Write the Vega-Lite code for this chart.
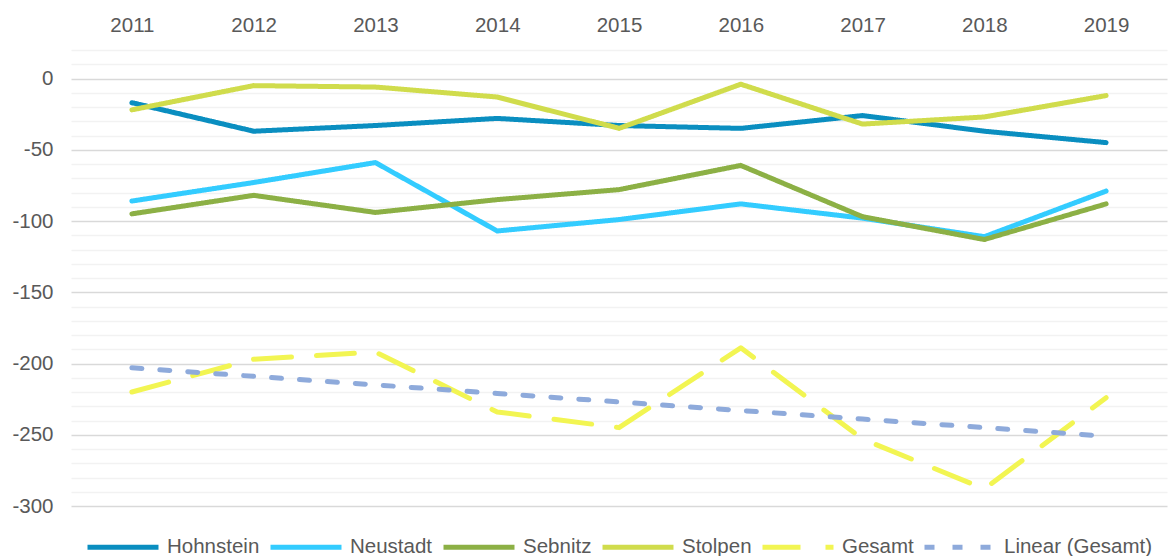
{
  "$schema": "https://vega.github.io/schema/vega-lite/v6.json",
  "width": 1096,
  "height": 456,
  "autosize": "none",
  "padding": {"left": 71, "top": 50, "right": 2, "bottom": 50},
  "background": "white",
  "config": {
    "view": {"stroke": null},
    "font": "Liberation Sans"
  },
  "data": {
    "values": [
      {"year": "2011", "series": "Hohnstein", "value": -17},
      {"year": "2012", "series": "Hohnstein", "value": -37},
      {"year": "2013", "series": "Hohnstein", "value": -33},
      {"year": "2014", "series": "Hohnstein", "value": -28},
      {"year": "2015", "series": "Hohnstein", "value": -33},
      {"year": "2016", "series": "Hohnstein", "value": -35},
      {"year": "2017", "series": "Hohnstein", "value": -26},
      {"year": "2018", "series": "Hohnstein", "value": -37},
      {"year": "2019", "series": "Hohnstein", "value": -45},
      {"year": "2011", "series": "Neustadt", "value": -86},
      {"year": "2012", "series": "Neustadt", "value": -73},
      {"year": "2013", "series": "Neustadt", "value": -59},
      {"year": "2014", "series": "Neustadt", "value": -107},
      {"year": "2015", "series": "Neustadt", "value": -99},
      {"year": "2016", "series": "Neustadt", "value": -88},
      {"year": "2017", "series": "Neustadt", "value": -98},
      {"year": "2018", "series": "Neustadt", "value": -111},
      {"year": "2019", "series": "Neustadt", "value": -79},
      {"year": "2011", "series": "Sebnitz", "value": -95},
      {"year": "2012", "series": "Sebnitz", "value": -82},
      {"year": "2013", "series": "Sebnitz", "value": -94},
      {"year": "2014", "series": "Sebnitz", "value": -85},
      {"year": "2015", "series": "Sebnitz", "value": -78},
      {"year": "2016", "series": "Sebnitz", "value": -61},
      {"year": "2017", "series": "Sebnitz", "value": -97},
      {"year": "2018", "series": "Sebnitz", "value": -113},
      {"year": "2019", "series": "Sebnitz", "value": -88},
      {"year": "2011", "series": "Stolpen", "value": -22},
      {"year": "2012", "series": "Stolpen", "value": -5},
      {"year": "2013", "series": "Stolpen", "value": -6},
      {"year": "2014", "series": "Stolpen", "value": -13},
      {"year": "2015", "series": "Stolpen", "value": -35},
      {"year": "2016", "series": "Stolpen", "value": -4},
      {"year": "2017", "series": "Stolpen", "value": -32},
      {"year": "2018", "series": "Stolpen", "value": -27},
      {"year": "2019", "series": "Stolpen", "value": -12},
      {"year": "2011", "series": "Gesamt", "value": -220},
      {"year": "2012", "series": "Gesamt", "value": -197},
      {"year": "2013", "series": "Gesamt", "value": -192},
      {"year": "2014", "series": "Gesamt", "value": -234},
      {"year": "2015", "series": "Gesamt", "value": -245},
      {"year": "2016", "series": "Gesamt", "value": -189},
      {"year": "2017", "series": "Gesamt", "value": -253},
      {"year": "2018", "series": "Gesamt", "value": -288},
      {"year": "2019", "series": "Gesamt", "value": -224},
      {"year": "2011", "series": "Linear (Gesamt)", "value": -203},
      {"year": "2012", "series": "Linear (Gesamt)", "value": -209},
      {"year": "2013", "series": "Linear (Gesamt)", "value": -215},
      {"year": "2014", "series": "Linear (Gesamt)", "value": -221},
      {"year": "2015", "series": "Linear (Gesamt)", "value": -227},
      {"year": "2016", "series": "Linear (Gesamt)", "value": -233},
      {"year": "2017", "series": "Linear (Gesamt)", "value": -239},
      {"year": "2018", "series": "Linear (Gesamt)", "value": -245},
      {"year": "2019", "series": "Linear (Gesamt)", "value": -251}
    ]
  },
  "mark": {"type": "line", "strokeCap": "round", "strokeJoin": "round"},
  "encoding": {
    "x": {
      "field": "year", "type": "ordinal",
      "scale": {"type": "point", "padding": 0.5},
      "axis": {"orient": "top", "title": null, "ticks": false, "domain": false, "grid": false, "labelAngle": 0, "labelPadding": 15,
        "labelFont": "Liberation Sans", "labelFontSize": 20.5, "labelColor": "#595959"}
    },
    "y": {
      "field": "value", "type": "quantitative",
      "scale": {"domain": [-300, 20], "nice": false, "zero": false},
      "axis": {
        "title": null, "ticks": false, "domain": false,
        "values": [20, 10, 0, -10, -20, -30, -40, -50, -60, -70, -80, -90, -100, -110, -120, -130, -140, -150, -160, -170, -180, -190, -200, -210, -220, -230, -240, -250, -260, -270, -280, -290, -300],
        "labelExpr": "datum.value % 50 === 0 && datum.value <= 0 ? '' + datum.value : ''",
        "gridColor": {"condition": {"test": "datum.value % 50 === 0 && datum.value <= 0", "value": "#D9D9D9"}, "value": "#F2F2F2"},
        "gridWidth": 1.5,
        "labelPadding": 18,
        "labelFont": "Liberation Sans", "labelFontSize": 20.5, "labelColor": "#595959"
      }
    },
    "color": {
      "field": "series", "type": "nominal",
      "scale": {
        "domain": ["Hohnstein", "Neustadt", "Sebnitz", "Stolpen", "Gesamt", "Linear (Gesamt)"],
        "range": ["#0A8EC0", "#33CCFF", "#8CB045", "#D0DC4C", "#F2F552", "#8EAADB"]
      },
      "legend": {
        "title": null, "orient": "none", "direction": "horizontal", "legendX": 14, "legendY": 459,
        "symbolType": "stroke", "symbolSize": 5041, "symbolStrokeWidth": 5.5,
        "labelOffset": 6, "columnPadding": 0, "columns": 6,
        "labelFont": "Liberation Sans", "labelFontSize": 20.5, "labelColor": "#595959"
      }
    },
    "strokeDash": {
      "field": "series", "type": "nominal",
      "scale": {
        "domain": ["Hohnstein", "Neustadt", "Sebnitz", "Stolpen", "Gesamt", "Linear (Gesamt)"],
        "range": [[1, 0], [1, 0], [1, 0], [1, 0], [38, 25], [10, 18]]
      },
      "legend": {
        "title": null, "orient": "none", "direction": "horizontal", "legendX": 14, "legendY": 459,
        "symbolType": "stroke", "symbolSize": 5041, "symbolStrokeWidth": 5.5,
        "labelOffset": 6, "columnPadding": 0, "columns": 6,
        "labelFont": "Liberation Sans", "labelFontSize": 20.5, "labelColor": "#595959"
      }
    },
    "strokeWidth": {
      "field": "series", "type": "nominal",
      "scale": {
        "domain": ["Hohnstein", "Neustadt", "Sebnitz", "Stolpen", "Gesamt", "Linear (Gesamt)"],
        "range": [5, 5, 5, 5, 5.5, 4]
      },
      "legend": null
    }
  }
}
